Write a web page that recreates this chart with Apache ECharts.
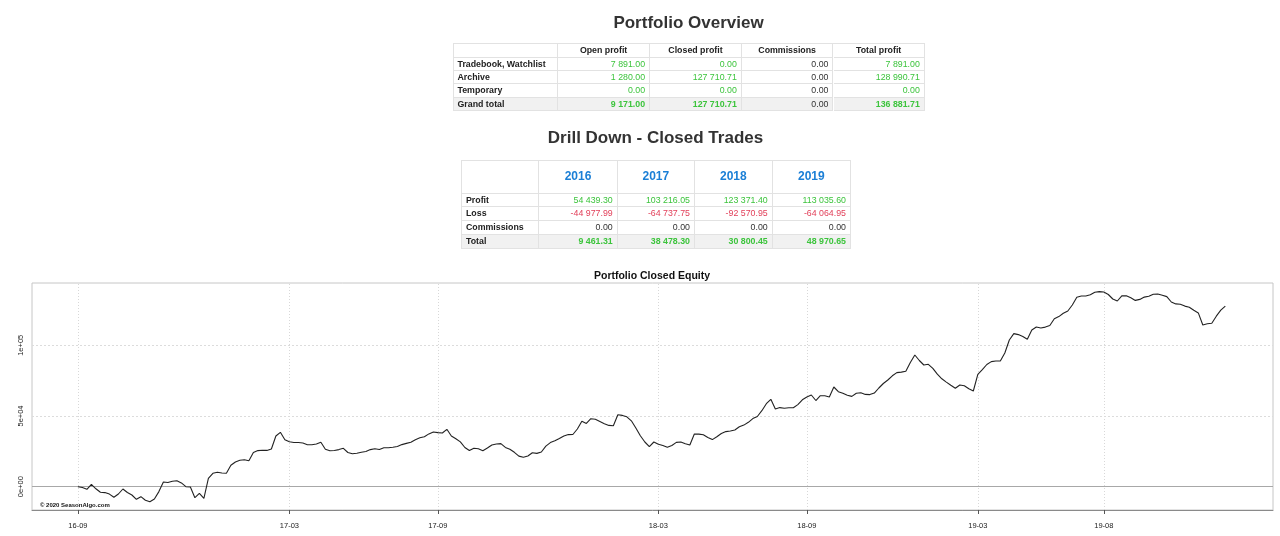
<!DOCTYPE html>
<html>
<head>
<meta charset="utf-8">
<script src="https://cdn.jsdelivr.net/npm/echarts@6/dist/echarts.min.js"></script>
<style>
  html, body { margin:0; padding:0; background:#fff; }
  body { width:1280px; height:536px; position:relative; overflow:hidden; font-family:'Liberation Sans', Arial, sans-serif; }
  #chart { position:absolute; left:0; top:0; width:1280px; height:536px; z-index:1; }
  .layer { position:absolute; left:0; top:0; width:1280px; height:256px; z-index:2; }
  .ttl { position:absolute; font-weight:bold; font-size:17px; line-height:20px; color:#333; white-space:nowrap; transform:translateX(-50%); }
  .cell { position:absolute; box-sizing:border-box; border-right:1px solid #e2e2e2; border-bottom:1px solid #e2e2e2; font-size:8.8px; white-space:nowrap; overflow:hidden; padding:0 4px; color:#333; }
  .tbl { position:absolute; box-sizing:border-box; border-top:1px solid #e2e2e2; border-left:1px solid #e2e2e2; }
</style>
</head>
<body>
<div id="chart"></div>
<div class="layer" id="tables"></div>
<script>
// ---------- table data ----------
const overviewColumns = ['', 'Open profit', 'Closed profit', 'Commissions', 'Total profit'];
const overviewRowLabels = ['Tradebook, Watchlist', 'Archive', 'Temporary', 'Grand total'];
const overviewOpen = [7891.00, 1280.00, 0.00, 9171.00];
const overviewClosed = [0.00, 127710.71, 0.00, 127710.71];
const overviewCommissions = [0.00, 0.00, 0.00, 0.00];
const overviewTotal = [7891.00, 128990.71, 0.00, 136881.71];

const drillYears = ['2016', '2017', '2018', '2019'];
const drillRowLabels = ['Profit', 'Loss', 'Commissions', 'Total'];
const drillProfit = [54439.30, 103216.05, 123371.40, 113035.60];
const drillLoss = [-44977.99, -64737.75, -92570.95, -64064.95];
const drillCommissions = [0.00, 0.00, 0.00, 0.00];
const drillTotal = [9461.31, 38478.30, 30800.45, 48970.65];

// ---------- chart data ----------
const chartTitle = 'Portfolio Closed Equity';
const copyrightText = '\u00A9 2020 SeasonAlgo.com';
const xTickIndex = [0, 47, 80, 129, 162, 200, 228];
const xTickLabels = ['16-09', '17-03', '17-09', '18-03', '18-09', '19-03', '19-08'];
const yTickValues = [0, 50000, 100000];
const yTickLabels = ['0e+00', '5e+04', '1e+05'];
const equity = [
  0, -570, -1840, 1700, -1490, -3960, -4170, -5230, -7500, -5160,
  -1630, -4100, -5870, -8910, -7070, -9620, -10610, -8700, -3470, 3320,
  2970, 3890, 4240, 2690, 0, -210, -7780, -4670, -8200, 5940,
  9480, 10180, 9690, 9480, 15130, 17470, 18670, 19020, 18390, 24260,
  25530, 25740, 25670, 26660, 35860, 38470, 33240, 31750, 31260, 31260,
  30900, 29700, 29700, 30200, 31400, 26450, 25460, 25600, 26240, 27160,
  24190, 23270, 23690, 24400, 24890, 26240, 26870, 26310, 27580, 27580,
  27860, 28430, 29770, 30620, 31400, 33240, 34580, 35360, 37340, 38680,
  38260, 37980, 40590, 35860, 33950, 31680, 27720, 25600, 27230, 26800,
  25460, 27370, 29490, 30200, 30480, 27790, 26520, 24330, 21640, 20790,
  21710, 24040, 23550, 24540, 28710, 31190, 32460, 34020, 35860, 36850,
  36920, 40810, 46250, 44700, 48090, 47670, 46110, 44550, 43350, 43140,
  50920, 50420, 49430, 46600, 41510, 36000, 31610, 28290, 31610, 29990,
  29140, 27860, 29140, 31330, 31610, 30340, 29490, 37270, 37200, 36700,
  34860, 33310, 35290, 37620, 38970, 39390, 40100, 42360, 43560, 45540,
  48160, 49650, 53750, 58700, 61810, 54950, 55940, 55520, 55870, 55870,
  58060, 61460, 63440, 64850, 60960, 64360, 64290, 63440, 70510, 67180,
  66120, 64710, 63860, 66120, 66410, 65270, 65130, 66260, 69800, 72980,
  75460, 78430, 80690, 81050, 81610, 87830, 93140, 89250, 86070, 86560,
  83730, 79560, 76310, 73970, 71710, 69590, 71920, 71430, 69310, 67680,
  79490, 82810, 86420, 88470, 88900, 88900, 94550, 103750, 108270, 107570,
  106220, 104240, 110820, 112940, 112230, 112870, 114000, 118810, 120300, 122700,
  124260, 128500, 134010, 134860, 134860, 135780, 137480, 137970, 137690, 135920,
  132740, 131330, 134930, 135080, 133660, 131750, 132460, 134090, 134720, 136140,
  136280, 135360, 134440, 130620, 129280, 129070, 127720, 126940, 124750, 122910,
  114350, 115200, 115560, 120580, 124820, 127710
];

// ---------- helpers ----------
const FONT = "'Liberation Sans', Arial, sans-serif";
const GREEN = '#3cc43c';
const RED = '#e2405a';
const BLUE = '#1b7fd6';
function fmt(n) {
  const neg = n < 0;
  const s = Math.abs(n).toFixed(2);
  const parts = s.split('.');
  const intPart = parts[0].replace(/\B(?=(\d{3})+(?!\d))/g, ' ');
  return (neg ? '-' : '') + intPart + '.' + parts[1];
}
const host = document.getElementById('tables');
function addTitle(text, cx, top) {
  const d = document.createElement('div');
  d.className = 'ttl';
  d.textContent = text;
  d.style.left = cx + 'px';
  d.style.top = top + 'px';
  host.appendChild(d);
}
function addTable(left, top, colW, rowH, cellFn) {
  const t = document.createElement('div');
  t.className = 'tbl';
  const W = colW.reduce((a, b) => a + b, 0);
  const H = rowH.reduce((a, b) => a + b, 0);
  t.style.left = left + 'px'; t.style.top = top + 'px';
  t.style.width = (W + 1) + 'px'; t.style.height = (H + 1) + 'px';
  let y = 0;
  rowH.forEach((h, r) => {
    let x = 0;
    colW.forEach((w, c) => {
      const info = cellFn(r, c);
      const d = document.createElement('div');
      d.className = 'cell';
      d.style.left = x + 'px'; d.style.top = y + 'px';
      d.style.width = (w) + 'px'; d.style.height = (h) + 'px';
      d.style.lineHeight = (h - 1) + 'px';
      d.textContent = info.text;
      d.style.textAlign = info.align || 'right';
      if (info.color) d.style.color = info.color;
      if (info.bold) d.style.fontWeight = 'bold';
      if (info.size) d.style.fontSize = info.size + 'px';
      if (info.bg) d.style.background = info.bg;
      t.appendChild(d);
      x += w;
    });
    y += h;
  });
  host.appendChild(t);
}

// Portfolio overview
addTitle('Portfolio Overview', 688.5, 12.7);
const ovCols = [overviewOpen, overviewClosed, overviewCommissions, overviewTotal];
addTable(452.5, 43.3, [104.6, 92, 91.7, 91.7, 91.3], [13.35, 13.35, 13.35, 13.35, 13.35], (r, c) => {
  const isTotal = r === 4;
  const bg = isTotal ? '#f1f1f1' : null;
  if (r === 0) return { text: overviewColumns[c], align: 'center', bold: true, color: '#222' };
  if (c === 0) return { text: overviewRowLabels[r - 1], align: 'left', bold: true, color: '#222', bg };
  const v = ovCols[c - 1][r - 1];
  const isComm = c === 3;
  return { text: fmt(v), color: isComm ? '#333' : GREEN, bold: isTotal && !isComm, bg };
});

// Drill down
addTitle('Drill Down - Closed Trades', 655.5, 128.4);
const drRows = [drillProfit, drillLoss, drillCommissions, drillTotal];
addTable(461, 160, [77.3, 78.4, 77.3, 77.7, 78.3], [32.7, 13.75, 13.75, 13.75, 13.8], (r, c) => {
  const isTotal = r === 4;
  const bg = isTotal ? '#f1f1f1' : null;
  if (r === 0) return { text: c === 0 ? '' : drillYears[c - 1], align: 'center', bold: true, color: BLUE, size: 12 };
  if (c === 0) return { text: drillRowLabels[r - 1], align: 'left', bold: true, color: '#222', bg };
  const v = drRows[r - 1][c - 1];
  let color = '#333';
  if (r === 1 || r === 4) color = GREEN;
  if (r === 2) color = RED;
  return { text: fmt(v), color, bold: isTotal, bg };
});

// ---------- chart ----------
const chart = echarts.init(document.getElementById('chart'), null, { renderer: 'canvas' });
const markData = [];
xTickIndex.forEach(v => markData.push({ xAxis: v, lineStyle: { color: '#d8d8d8', type: [1, 2], width: 1 } }));
yTickValues.forEach(v => markData.push({ yAxis: v, lineStyle: v === 0 ? { color: '#a8a8a8', type: 'solid', width: 1.2 } : { color: '#dcdcdc', type: [2, 2], width: 1 } }));

chart.setOption({
  animation: false,
  backgroundColor: '#fff',
  textStyle: { fontFamily: FONT },
  grid: { left: 32, right: 7, top: 283, bottom: 26, show: true, borderColor: '#c6c6c6', borderWidth: 1, containLabel: false, outerBoundsMode: 'none' },
  xAxis: {
    type: 'value', min: -10.2, max: 265.6,
    axisLine: { show: true, onZero: false, lineStyle: { color: '#8a8a8a', width: 1 } },
    axisTick: { show: true, customValues: xTickIndex, length: 4, lineStyle: { color: '#555' } },
    axisLabel: {
      customValues: xTickIndex,
      formatter: v => { const i = xTickIndex.indexOf(v); return i >= 0 ? xTickLabels[i] : ''; },
      fontSize: 7.5, color: '#222', margin: 12, fontFamily: FONT
    },
    splitLine: { show: false }
  },
  yAxis: {
    type: 'value', min: -16480, max: 144060,
    axisLine: { show: false }, axisTick: { show: false },
    axisLabel: {
      customValues: yTickValues,
      formatter: v => { const i = yTickValues.indexOf(v); return i >= 0 ? yTickLabels[i] : ''; },
      rotate: 90, fontSize: 7.5, color: '#222', margin: 7, fontFamily: FONT
    },
    splitLine: { show: false }
  },
  series: [{
    type: 'line',
    data: equity.map((v, i) => [i, v]),
    symbol: 'none', showSymbol: false,
    lineStyle: { color: '#222', width: 1.1 },
    z: 3,
    markLine: { silent: true, symbol: 'none', animation: false, label: { show: false }, data: markData, z: 1 }
  }],
  graphic: [
    { type: 'text', x: 652, y: 276, style: { text: chartTitle, textAlign: 'center', textVerticalAlign: 'middle', font: "bold 10.5px 'Liberation Sans', Arial", fill: '#111' } },
    { type: 'text', x: 40, y: 505, style: { text: copyrightText, textAlign: 'left', textVerticalAlign: 'middle', font: "bold 6px 'Liberation Sans', Arial", fill: '#111' } }
  ]
});
</script>
</body>
</html>
